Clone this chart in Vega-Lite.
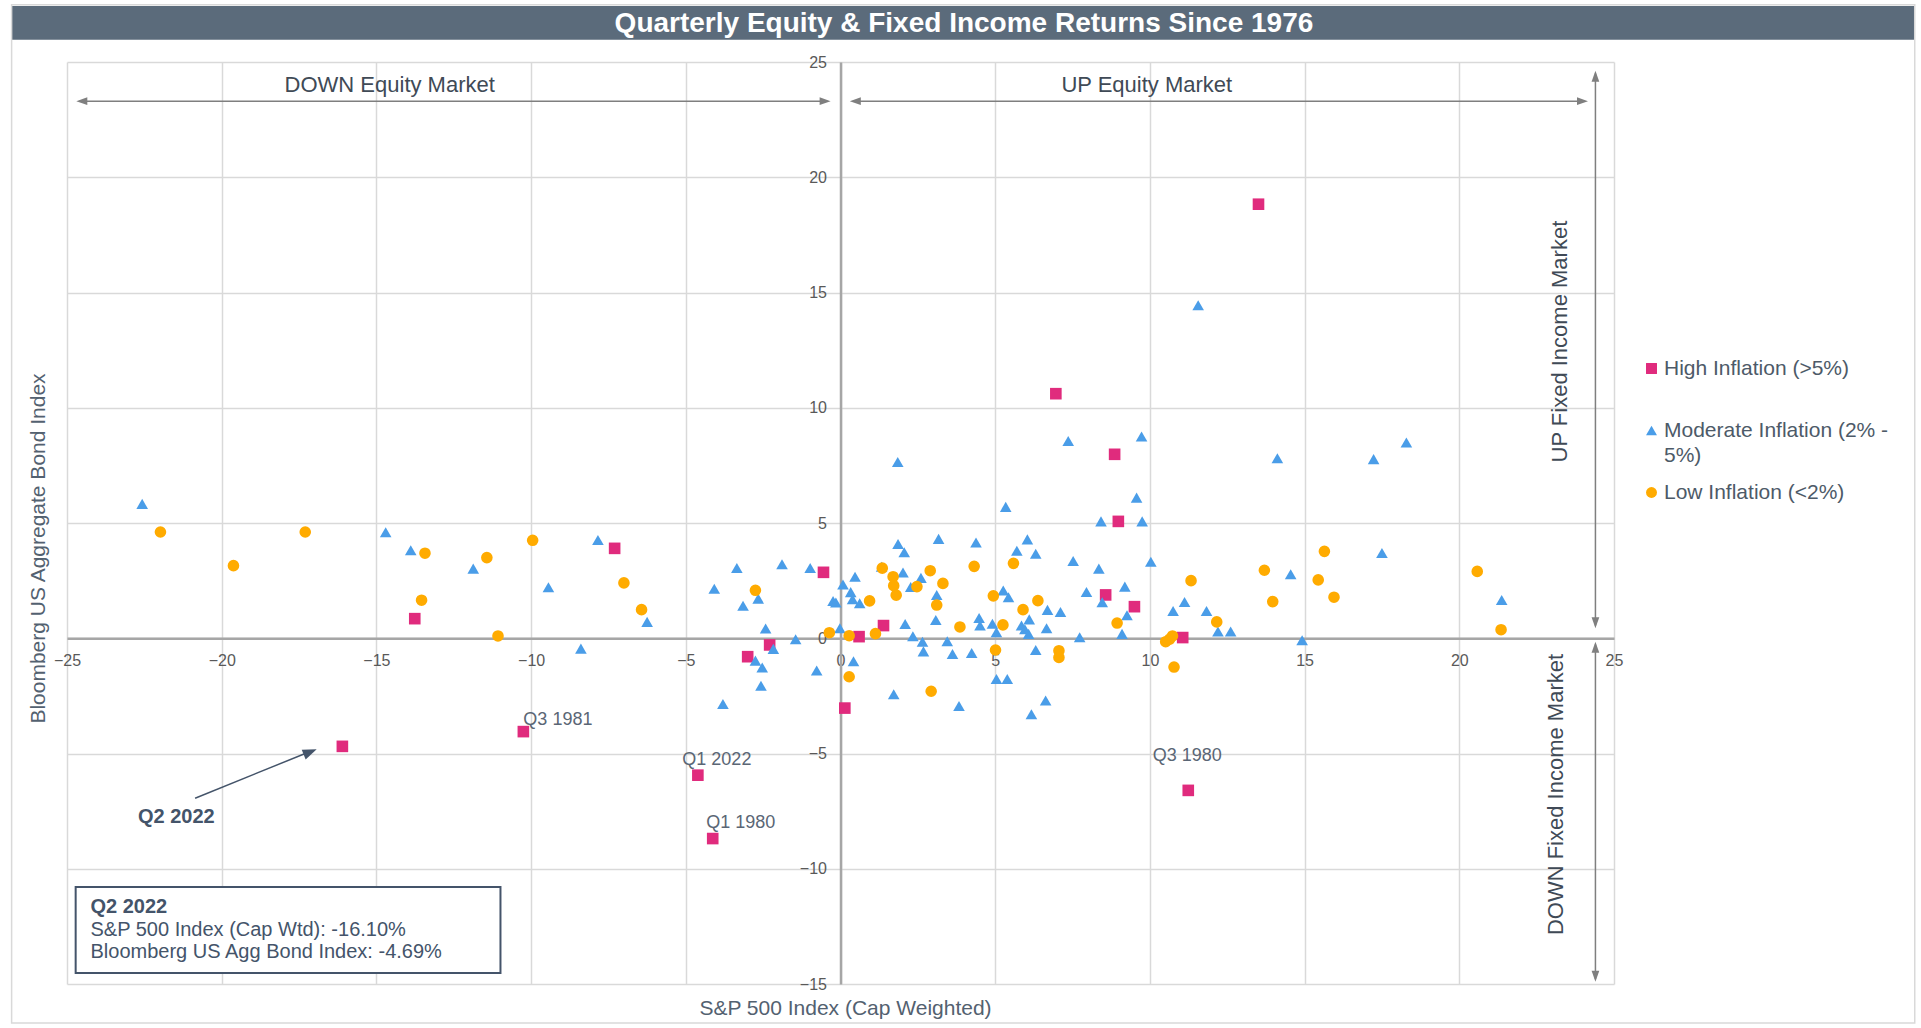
{
  "$schema": "https://vega.github.io/schema/vega-lite/v6.json",
  "autosize": "none",
  "width": 1547,
  "height": 922,
  "padding": {"left": 67, "top": 62, "right": 307, "bottom": 44},
  "background": "white",
  "config": {
    "view": {"stroke": null},
    "font": "Liberation Sans",
    "axis": {"grid": true, "gridColor": "#D9D9D9", "gridWidth": 1.5, "domainColor": "#A6A6A6", "domainWidth": 2.5, "ticks": false, "tickSize": 0, "labelFontSize": 16, "labelColor": "#595959", "labelFlush": false, "labelBound": false, "labelOverlap": false, "titleFontSize": 21, "titleFontWeight": "normal", "titleColor": "#536170"}
  },
  "data": {"values": [
    {"sp500": -16.10, "bond": -4.69, "inflation": "High Inflation (>5%)", "label": "Q2 2022"},
    {"sp500": -10.25, "bond": -4.05, "inflation": "High Inflation (>5%)", "label": "Q3 1981"},
    {"sp500": -4.61, "bond": -5.94, "inflation": "High Inflation (>5%)", "label": "Q1 2022"},
    {"sp500": -4.13, "bond": -8.69, "inflation": "High Inflation (>5%)", "label": "Q1 1980"},
    {"sp500": 11.24, "bond": -6.60, "inflation": "High Inflation (>5%)", "label": "Q3 1980"},
    {"sp500": -13.76, "bond": 0.85, "inflation": "High Inflation (>5%)"},
    {"sp500": -7.30, "bond": 3.90, "inflation": "High Inflation (>5%)"},
    {"sp500": -0.55, "bond": 2.86, "inflation": "High Inflation (>5%)"},
    {"sp500": -2.29, "bond": -0.29, "inflation": "High Inflation (>5%)"},
    {"sp500": -3.00, "bond": -0.80, "inflation": "High Inflation (>5%)"},
    {"sp500": 0.14, "bond": -3.03, "inflation": "High Inflation (>5%)"},
    {"sp500": 0.60, "bond": 0.07, "inflation": "High Inflation (>5%)"},
    {"sp500": 1.39, "bond": 0.55, "inflation": "High Inflation (>5%)"},
    {"sp500": 6.96, "bond": 10.61, "inflation": "High Inflation (>5%)"},
    {"sp500": 8.86, "bond": 7.98, "inflation": "High Inflation (>5%)"},
    {"sp500": 8.98, "bond": 5.07, "inflation": "High Inflation (>5%)"},
    {"sp500": 8.57, "bond": 1.88, "inflation": "High Inflation (>5%)"},
    {"sp500": 9.50, "bond": 1.37, "inflation": "High Inflation (>5%)"},
    {"sp500": 11.06, "bond": 0.03, "inflation": "High Inflation (>5%)"},
    {"sp500": 13.51, "bond": 18.83, "inflation": "High Inflation (>5%)"},
    {"sp500": -22.57, "bond": 5.83, "inflation": "Moderate Inflation (2% - 5%)"},
    {"sp500": -14.70, "bond": 4.60, "inflation": "Moderate Inflation (2% - 5%)"},
    {"sp500": -13.89, "bond": 3.82, "inflation": "Moderate Inflation (2% - 5%)"},
    {"sp500": -11.87, "bond": 3.02, "inflation": "Moderate Inflation (2% - 5%)"},
    {"sp500": -9.44, "bond": 2.21, "inflation": "Moderate Inflation (2% - 5%)"},
    {"sp500": -7.84, "bond": 4.26, "inflation": "Moderate Inflation (2% - 5%)"},
    {"sp500": -6.25, "bond": 0.71, "inflation": "Moderate Inflation (2% - 5%)"},
    {"sp500": -8.39, "bond": -0.45, "inflation": "Moderate Inflation (2% - 5%)"},
    {"sp500": -4.08, "bond": 2.15, "inflation": "Moderate Inflation (2% - 5%)"},
    {"sp500": -3.35, "bond": 3.05, "inflation": "Moderate Inflation (2% - 5%)"},
    {"sp500": -3.15, "bond": 1.41, "inflation": "Moderate Inflation (2% - 5%)"},
    {"sp500": -2.66, "bond": 1.72, "inflation": "Moderate Inflation (2% - 5%)"},
    {"sp500": -1.89, "bond": 3.21, "inflation": "Moderate Inflation (2% - 5%)"},
    {"sp500": -0.98, "bond": 3.05, "inflation": "Moderate Inflation (2% - 5%)"},
    {"sp500": -2.42, "bond": 0.42, "inflation": "Moderate Inflation (2% - 5%)"},
    {"sp500": -2.17, "bond": -0.46, "inflation": "Moderate Inflation (2% - 5%)"},
    {"sp500": -1.45, "bond": -0.04, "inflation": "Moderate Inflation (2% - 5%)"},
    {"sp500": -2.75, "bond": -0.97, "inflation": "Moderate Inflation (2% - 5%)"},
    {"sp500": -2.53, "bond": -1.27, "inflation": "Moderate Inflation (2% - 5%)"},
    {"sp500": -2.57, "bond": -2.06, "inflation": "Moderate Inflation (2% - 5%)"},
    {"sp500": -3.80, "bond": -2.85, "inflation": "Moderate Inflation (2% - 5%)"},
    {"sp500": -0.77, "bond": -1.40, "inflation": "Moderate Inflation (2% - 5%)"},
    {"sp500": -0.02, "bond": 0.43, "inflation": "Moderate Inflation (2% - 5%)"},
    {"sp500": 0.42, "bond": -1.00, "inflation": "Moderate Inflation (2% - 5%)"},
    {"sp500": 1.72, "bond": -2.43, "inflation": "Moderate Inflation (2% - 5%)"},
    {"sp500": 0.08, "bond": 2.33, "inflation": "Moderate Inflation (2% - 5%)"},
    {"sp500": 0.47, "bond": 2.67, "inflation": "Moderate Inflation (2% - 5%)"},
    {"sp500": 0.33, "bond": 2.00, "inflation": "Moderate Inflation (2% - 5%)"},
    {"sp500": 0.39, "bond": 1.69, "inflation": "Moderate Inflation (2% - 5%)"},
    {"sp500": -0.24, "bond": 1.62, "inflation": "Moderate Inflation (2% - 5%)"},
    {"sp500": -0.15, "bond": 1.55, "inflation": "Moderate Inflation (2% - 5%)"},
    {"sp500": 0.62, "bond": 1.52, "inflation": "Moderate Inflation (2% - 5%)"},
    {"sp500": 1.33, "bond": 3.10, "inflation": "Moderate Inflation (2% - 5%)"},
    {"sp500": 1.85, "bond": 7.65, "inflation": "Moderate Inflation (2% - 5%)"},
    {"sp500": 1.86, "bond": 4.09, "inflation": "Moderate Inflation (2% - 5%)"},
    {"sp500": 2.06, "bond": 3.73, "inflation": "Moderate Inflation (2% - 5%)"},
    {"sp500": 2.02, "bond": 2.85, "inflation": "Moderate Inflation (2% - 5%)"},
    {"sp500": 2.60, "bond": 2.62, "inflation": "Moderate Inflation (2% - 5%)"},
    {"sp500": 2.27, "bond": 2.22, "inflation": "Moderate Inflation (2% - 5%)"},
    {"sp500": 3.11, "bond": 1.88, "inflation": "Moderate Inflation (2% - 5%)"},
    {"sp500": 3.17, "bond": 4.31, "inflation": "Moderate Inflation (2% - 5%)"},
    {"sp500": 4.38, "bond": 4.15, "inflation": "Moderate Inflation (2% - 5%)"},
    {"sp500": 5.34, "bond": 5.70, "inflation": "Moderate Inflation (2% - 5%)"},
    {"sp500": 6.04, "bond": 4.29, "inflation": "Moderate Inflation (2% - 5%)"},
    {"sp500": 5.70, "bond": 3.80, "inflation": "Moderate Inflation (2% - 5%)"},
    {"sp500": 6.31, "bond": 3.67, "inflation": "Moderate Inflation (2% - 5%)"},
    {"sp500": 7.52, "bond": 3.35, "inflation": "Moderate Inflation (2% - 5%)"},
    {"sp500": 7.36, "bond": 8.56, "inflation": "Moderate Inflation (2% - 5%)"},
    {"sp500": 9.73, "bond": 8.75, "inflation": "Moderate Inflation (2% - 5%)"},
    {"sp500": 9.57, "bond": 6.10, "inflation": "Moderate Inflation (2% - 5%)"},
    {"sp500": 8.42, "bond": 5.07, "inflation": "Moderate Inflation (2% - 5%)"},
    {"sp500": 9.75, "bond": 5.07, "inflation": "Moderate Inflation (2% - 5%)"},
    {"sp500": 10.03, "bond": 3.32, "inflation": "Moderate Inflation (2% - 5%)"},
    {"sp500": 8.35, "bond": 3.02, "inflation": "Moderate Inflation (2% - 5%)"},
    {"sp500": 2.09, "bond": 0.62, "inflation": "Moderate Inflation (2% - 5%)"},
    {"sp500": 2.34, "bond": 0.09, "inflation": "Moderate Inflation (2% - 5%)"},
    {"sp500": 2.65, "bond": -0.15, "inflation": "Moderate Inflation (2% - 5%)"},
    {"sp500": 2.68, "bond": -0.57, "inflation": "Moderate Inflation (2% - 5%)"},
    {"sp500": 3.08, "bond": 0.79, "inflation": "Moderate Inflation (2% - 5%)"},
    {"sp500": 3.45, "bond": -0.13, "inflation": "Moderate Inflation (2% - 5%)"},
    {"sp500": 3.62, "bond": -0.68, "inflation": "Moderate Inflation (2% - 5%)"},
    {"sp500": 4.24, "bond": -0.64, "inflation": "Moderate Inflation (2% - 5%)"},
    {"sp500": 4.48, "bond": 0.88, "inflation": "Moderate Inflation (2% - 5%)"},
    {"sp500": 4.51, "bond": 0.55, "inflation": "Moderate Inflation (2% - 5%)"},
    {"sp500": 4.91, "bond": 0.63, "inflation": "Moderate Inflation (2% - 5%)"},
    {"sp500": 5.04, "bond": 0.26, "inflation": "Moderate Inflation (2% - 5%)"},
    {"sp500": 5.26, "bond": 2.07, "inflation": "Moderate Inflation (2% - 5%)"},
    {"sp500": 5.43, "bond": 1.78, "inflation": "Moderate Inflation (2% - 5%)"},
    {"sp500": 6.69, "bond": 1.23, "inflation": "Moderate Inflation (2% - 5%)"},
    {"sp500": 7.11, "bond": 1.14, "inflation": "Moderate Inflation (2% - 5%)"},
    {"sp500": 5.85, "bond": 0.55, "inflation": "Moderate Inflation (2% - 5%)"},
    {"sp500": 5.96, "bond": 0.39, "inflation": "Moderate Inflation (2% - 5%)"},
    {"sp500": 6.10, "bond": 0.82, "inflation": "Moderate Inflation (2% - 5%)"},
    {"sp500": 6.08, "bond": 0.19, "inflation": "Moderate Inflation (2% - 5%)"},
    {"sp500": 6.66, "bond": 0.43, "inflation": "Moderate Inflation (2% - 5%)"},
    {"sp500": 6.31, "bond": -0.51, "inflation": "Moderate Inflation (2% - 5%)"},
    {"sp500": 7.73, "bond": 0.04, "inflation": "Moderate Inflation (2% - 5%)"},
    {"sp500": 7.95, "bond": 2.01, "inflation": "Moderate Inflation (2% - 5%)"},
    {"sp500": 8.46, "bond": 1.56, "inflation": "Moderate Inflation (2% - 5%)"},
    {"sp500": 9.19, "bond": 2.24, "inflation": "Moderate Inflation (2% - 5%)"},
    {"sp500": 9.26, "bond": 1.00, "inflation": "Moderate Inflation (2% - 5%)"},
    {"sp500": 9.10, "bond": 0.19, "inflation": "Moderate Inflation (2% - 5%)"},
    {"sp500": 10.75, "bond": 1.18, "inflation": "Moderate Inflation (2% - 5%)"},
    {"sp500": 11.12, "bond": 1.57, "inflation": "Moderate Inflation (2% - 5%)"},
    {"sp500": 11.83, "bond": 1.18, "inflation": "Moderate Inflation (2% - 5%)"},
    {"sp500": 12.20, "bond": 0.29, "inflation": "Moderate Inflation (2% - 5%)"},
    {"sp500": 12.61, "bond": 0.29, "inflation": "Moderate Inflation (2% - 5%)"},
    {"sp500": 3.83, "bond": -2.94, "inflation": "Moderate Inflation (2% - 5%)"},
    {"sp500": 5.04, "bond": -1.77, "inflation": "Moderate Inflation (2% - 5%)"},
    {"sp500": 5.39, "bond": -1.77, "inflation": "Moderate Inflation (2% - 5%)"},
    {"sp500": 6.63, "bond": -2.70, "inflation": "Moderate Inflation (2% - 5%)"},
    {"sp500": 6.17, "bond": -3.30, "inflation": "Moderate Inflation (2% - 5%)"},
    {"sp500": 14.12, "bond": 7.81, "inflation": "Moderate Inflation (2% - 5%)"},
    {"sp500": 17.23, "bond": 7.77, "inflation": "Moderate Inflation (2% - 5%)"},
    {"sp500": 18.29, "bond": 8.49, "inflation": "Moderate Inflation (2% - 5%)"},
    {"sp500": 17.50, "bond": 3.70, "inflation": "Moderate Inflation (2% - 5%)"},
    {"sp500": 14.55, "bond": 2.78, "inflation": "Moderate Inflation (2% - 5%)"},
    {"sp500": 21.37, "bond": 1.66, "inflation": "Moderate Inflation (2% - 5%)"},
    {"sp500": 14.92, "bond": -0.09, "inflation": "Moderate Inflation (2% - 5%)"},
    {"sp500": 11.56, "bond": 14.45, "inflation": "Moderate Inflation (2% - 5%)"},
    {"sp500": -21.98, "bond": 4.61, "inflation": "Low Inflation (<2%)"},
    {"sp500": -19.62, "bond": 3.15, "inflation": "Low Inflation (<2%)"},
    {"sp500": -17.30, "bond": 4.61, "inflation": "Low Inflation (<2%)"},
    {"sp500": -13.43, "bond": 3.69, "inflation": "Low Inflation (<2%)"},
    {"sp500": -11.43, "bond": 3.50, "inflation": "Low Inflation (<2%)"},
    {"sp500": -13.54, "bond": 1.65, "inflation": "Low Inflation (<2%)"},
    {"sp500": -11.07, "bond": 0.10, "inflation": "Low Inflation (<2%)"},
    {"sp500": -9.95, "bond": 4.25, "inflation": "Low Inflation (<2%)"},
    {"sp500": -7.00, "bond": 2.40, "inflation": "Low Inflation (<2%)"},
    {"sp500": -6.43, "bond": 1.24, "inflation": "Low Inflation (<2%)"},
    {"sp500": -2.75, "bond": 2.08, "inflation": "Low Inflation (<2%)"},
    {"sp500": -0.36, "bond": 0.24, "inflation": "Low Inflation (<2%)"},
    {"sp500": 0.28, "bond": 0.11, "inflation": "Low Inflation (<2%)"},
    {"sp500": 1.13, "bond": 0.20, "inflation": "Low Inflation (<2%)"},
    {"sp500": 0.28, "bond": -1.67, "inflation": "Low Inflation (<2%)"},
    {"sp500": 0.94, "bond": 1.62, "inflation": "Low Inflation (<2%)"},
    {"sp500": 1.35, "bond": 3.04, "inflation": "Low Inflation (<2%)"},
    {"sp500": 1.70, "bond": 2.67, "inflation": "Low Inflation (<2%)"},
    {"sp500": 1.72, "bond": 2.28, "inflation": "Low Inflation (<2%)"},
    {"sp500": 1.80, "bond": 1.87, "inflation": "Low Inflation (<2%)"},
    {"sp500": 2.90, "bond": 2.93, "inflation": "Low Inflation (<2%)"},
    {"sp500": 2.47, "bond": 2.24, "inflation": "Low Inflation (<2%)"},
    {"sp500": 3.31, "bond": 2.38, "inflation": "Low Inflation (<2%)"},
    {"sp500": 3.11, "bond": 1.44, "inflation": "Low Inflation (<2%)"},
    {"sp500": 4.32, "bond": 3.12, "inflation": "Low Inflation (<2%)"},
    {"sp500": 5.59, "bond": 3.25, "inflation": "Low Inflation (<2%)"},
    {"sp500": 3.86, "bond": 0.49, "inflation": "Low Inflation (<2%)"},
    {"sp500": 5.25, "bond": 0.58, "inflation": "Low Inflation (<2%)"},
    {"sp500": 4.94, "bond": 1.84, "inflation": "Low Inflation (<2%)"},
    {"sp500": 5.90, "bond": 1.24, "inflation": "Low Inflation (<2%)"},
    {"sp500": 6.38, "bond": 1.63, "inflation": "Low Inflation (<2%)"},
    {"sp500": 5.01, "bond": -0.51, "inflation": "Low Inflation (<2%)"},
    {"sp500": 7.06, "bond": -0.54, "inflation": "Low Inflation (<2%)"},
    {"sp500": 7.06, "bond": -0.83, "inflation": "Low Inflation (<2%)"},
    {"sp500": 8.94, "bond": 0.66, "inflation": "Low Inflation (<2%)"},
    {"sp500": 11.33, "bond": 2.50, "inflation": "Low Inflation (<2%)"},
    {"sp500": 12.16, "bond": 0.71, "inflation": "Low Inflation (<2%)"},
    {"sp500": 10.51, "bond": -0.15, "inflation": "Low Inflation (<2%)"},
    {"sp500": 10.64, "bond": -0.04, "inflation": "Low Inflation (<2%)"},
    {"sp500": 10.73, "bond": 0.10, "inflation": "Low Inflation (<2%)"},
    {"sp500": 10.78, "bond": -1.25, "inflation": "Low Inflation (<2%)"},
    {"sp500": 2.93, "bond": -2.30, "inflation": "Low Inflation (<2%)"},
    {"sp500": 15.64, "bond": 3.77, "inflation": "Low Inflation (<2%)"},
    {"sp500": 13.70, "bond": 2.95, "inflation": "Low Inflation (<2%)"},
    {"sp500": 15.44, "bond": 2.53, "inflation": "Low Inflation (<2%)"},
    {"sp500": 15.95, "bond": 1.78, "inflation": "Low Inflation (<2%)"},
    {"sp500": 13.97, "bond": 1.59, "inflation": "Low Inflation (<2%)"},
    {"sp500": 20.58, "bond": 2.90, "inflation": "Low Inflation (<2%)"},
    {"sp500": 21.35, "bond": 0.37, "inflation": "Low Inflation (<2%)"}
  ]},
  "layer": [
    {
      "data": {"values": [{}]},
      "mark": {"type": "rect", "color": "#5B6B7B"},
      "encoding": {"x": {"datum": -26.79}, "x2": {"datum": 34.72}, "y": {"datum": 27.43}, "y2": {"datum": 25.96}}
    },
    {
      "data": {"values": [{}]},
      "mark": {"type": "rect", "filled": false, "stroke": "#D9D9D9", "strokeWidth": 1.5},
      "encoding": {"x": {"datum": -26.79}, "x2": {"datum": 34.72}, "y": {"datum": 27.48}, "y2": {"datum": -16.69}}
    },
    {
      "data": {"values": [{}]},
      "mark": {"type": "text", "text": "Quarterly Equity & Fixed Income Returns Since 1976", "fontSize": 28, "fontWeight": "bold", "color": "white", "align": "center", "baseline": "middle"},
      "encoding": {"x": {"datum": 3.99}, "y": {"datum": 26.65}}
    },
    {
      "mark": {"type": "point", "filled": true, "opacity": 1, "size": 135, "strokeWidth": 0},
      "encoding": {
        "x": {"field": "sp500", "type": "quantitative", "scale": {"domain": [-25, 25], "nice": false, "zero": false},
          "axis": {"values": [-25, -20, -15, -10, -5, 0, 5, 10, 15, 20, 25], "offset": -345.75, "labelPadding": 14, "title": "S&P 500 Index (Cap Weighted)", "titleX": 778, "titleY": 369.75, "titleBaseline": "middle", "titleAlign": "center"}},
        "y": {"field": "bond", "type": "quantitative", "scale": {"domain": [-15, 25], "nice": false, "zero": false},
          "axis": {"values": [-15, -10, -5, 0, 5, 10, 15, 20, 25], "offset": -773.5, "labelPadding": 14, "title": "Bloomberg US Aggregate Bond Index", "titleX": -802.5, "titleY": 486, "titleAngle": 270, "titleBaseline": "middle", "titleAlign": "center"}},
        "color": {"field": "inflation", "type": "nominal",
          "scale": {"domain": ["High Inflation (>5%)", "Moderate Inflation (2% - 5%)", "Low Inflation (<2%)"], "range": ["#E02B7D", "#4A9DE8", "#FFAB00"]},
          "legend": {"title": null, "orient": "none", "legendX": 1574, "legendY": 296, "padding": 0, "labelFontSize": 21, "labelColor": "#4D5A68", "symbolSize": 120, "symbolOpacity": 1, "symbolStrokeWidth": 0, "labelOffset": 2, "rowPadding": 15, "labelLimit": 400,
            "labelExpr": "datum.label == 'Moderate Inflation (2% - 5%)' ? ['Moderate Inflation (2% -', '5%)'] : datum.label == 'High Inflation (>5%)' ? ['High Inflation (>5%)', ' '] : datum.label",
            "encode": {"labels": {"update": {"lineHeight": {"value": 25}}}}}},
        "shape": {"field": "inflation", "type": "nominal",
          "scale": {"domain": ["High Inflation (>5%)", "Moderate Inflation (2% - 5%)", "Low Inflation (<2%)"], "range": ["square", "triangle-up", "circle"]},
          "legend": {"title": null, "orient": "none", "legendX": 1574, "legendY": 296, "padding": 0, "labelFontSize": 21, "labelColor": "#4D5A68", "symbolSize": 120, "symbolOpacity": 1, "symbolStrokeWidth": 0, "labelOffset": 2, "rowPadding": 15, "labelLimit": 400,
            "labelExpr": "datum.label == 'Moderate Inflation (2% - 5%)' ? ['Moderate Inflation (2% -', '5%)'] : datum.label == 'High Inflation (>5%)' ? ['High Inflation (>5%)', ' '] : datum.label",
            "encode": {"labels": {"update": {"lineHeight": {"value": 25}}}}}}
      }
    },
    {
      "data": {"values": [{}]},
      "mark": {"type": "rect", "fill": "white", "stroke": "#44546A", "strokeWidth": 2},
      "encoding": {"x": {"datum": -24.72}, "x2": {"datum": -10.99}, "y": {"datum": -10.79}, "y2": {"datum": -14.52}}
    },
    {
      "data": {"values": [{}]},
      "mark": {"type": "text", "text": "Q2 2022", "fontSize": 20, "fontWeight": "bold", "color": "#44546A", "align": "left", "baseline": "middle"},
      "encoding": {"x": {"datum": -24.24}, "y": {"datum": -11.64}}
    },
    {
      "data": {"values": [{}]},
      "mark": {"type": "text", "text": ["S&P 500 Index (Cap Wtd): -16.10%", "Bloomberg US Agg Bond Index: -4.69%"], "fontSize": 20, "lineHeight": 22.5, "color": "#44546A", "align": "left", "baseline": "top"},
      "encoding": {"x": {"datum": -24.24}, "y": {"datum": -12.22}}
    },
    {
      "transform": [{"filter": "datum.label == 'Q3 1981'"}],
      "mark": {"type": "text", "fontSize": 18, "color": "#5A6675", "align": "left", "baseline": "middle", "dx": 0, "dy": -12},
      "encoding": {"x": {"field": "sp500", "type": "quantitative"}, "y": {"field": "bond", "type": "quantitative"}, "text": {"field": "label"}}
    },
    {
      "transform": [{"filter": "datum.label == 'Q1 2022'"}],
      "mark": {"type": "text", "fontSize": 18, "color": "#5A6675", "align": "center", "baseline": "middle", "dx": 19, "dy": -15},
      "encoding": {"x": {"field": "sp500", "type": "quantitative"}, "y": {"field": "bond", "type": "quantitative"}, "text": {"field": "label"}}
    },
    {
      "transform": [{"filter": "datum.label == 'Q1 1980'"}],
      "mark": {"type": "text", "fontSize": 18, "color": "#5A6675", "align": "center", "baseline": "middle", "dx": 28, "dy": -16},
      "encoding": {"x": {"field": "sp500", "type": "quantitative"}, "y": {"field": "bond", "type": "quantitative"}, "text": {"field": "label"}}
    },
    {
      "transform": [{"filter": "datum.label == 'Q3 1980'"}],
      "mark": {"type": "text", "fontSize": 18, "color": "#5A6675", "align": "center", "baseline": "middle", "dx": -1, "dy": -34},
      "encoding": {"x": {"field": "sp500", "type": "quantitative"}, "y": {"field": "bond", "type": "quantitative"}, "text": {"field": "label"}}
    },
    {
      "transform": [{"filter": "datum.label == 'Q2 2022'"}],
      "mark": {"type": "text", "fontSize": 20, "fontWeight": "bold", "color": "#44546A", "align": "center", "baseline": "middle", "dx": -166, "dy": 71},
      "encoding": {"x": {"field": "sp500", "type": "quantitative"}, "y": {"field": "bond", "type": "quantitative"}, "text": {"field": "label"}}
    },
    {
      "data": {"values": [{}]},
      "mark": {"type": "rule", "color": "#44546A", "strokeWidth": 1.5},
      "encoding": {"x": {"datum": -20.86}, "y": {"datum": -6.94}, "x2": {"datum": -17.3}, "y2": {"datum": -5.0}}
    },
    {
      "data": {"values": [{}]},
      "mark": {"type": "point", "shape": "M0,0L-2,-0.75L-2,0.75Z", "filled": true, "opacity": 1, "color": "#44546A", "size": 196, "angle": 338.1, "strokeWidth": 0},
      "encoding": {"x": {"datum": -16.93}, "y": {"datum": -4.82}}
    },
    {
      "data": {"values": [{}]},
      "mark": {"type": "rule", "color": "#7F7F7F", "strokeWidth": 1.5},
      "encoding": {"x": {"datum": -24.6}, "x2": {"datum": -0.42}, "y": {"datum": 23.3}}
    },
    {
      "data": {"values": [{}]},
      "mark": {"type": "rule", "color": "#7F7F7F", "strokeWidth": 1.5},
      "encoding": {"x": {"datum": 0.4}, "x2": {"datum": 24.06}, "y": {"datum": 23.3}}
    },
    {
      "data": {"values": [{}]},
      "mark": {"type": "rule", "color": "#7F7F7F", "strokeWidth": 1.5},
      "encoding": {"x": {"datum": 24.4}, "y": {"datum": 24.5}, "y2": {"datum": 0.55}}
    },
    {
      "data": {"values": [{}]},
      "mark": {"type": "rule", "color": "#7F7F7F", "strokeWidth": 1.5},
      "encoding": {"x": {"datum": 24.4}, "y": {"datum": -0.27}, "y2": {"datum": -14.78}}
    },
    {
      "data": {"values": [{}]},
      "mark": {"type": "point", "shape": "M0,0L-2,-0.7L-2,0.7Z", "filled": true, "opacity": 1, "color": "#7F7F7F", "size": 121, "angle": 180, "strokeWidth": 0},
      "encoding": {"x": {"datum": -24.7}, "y": {"datum": 23.3}}
    },
    {
      "data": {"values": [{}]},
      "mark": {"type": "point", "shape": "M0,0L-2,-0.7L-2,0.7Z", "filled": true, "opacity": 1, "color": "#7F7F7F", "size": 121, "angle": 0, "strokeWidth": 0},
      "encoding": {"x": {"datum": -0.32}, "y": {"datum": 23.3}}
    },
    {
      "data": {"values": [{}]},
      "mark": {"type": "point", "shape": "M0,0L-2,-0.7L-2,0.7Z", "filled": true, "opacity": 1, "color": "#7F7F7F", "size": 121, "angle": 180, "strokeWidth": 0},
      "encoding": {"x": {"datum": 0.3}, "y": {"datum": 23.3}}
    },
    {
      "data": {"values": [{}]},
      "mark": {"type": "point", "shape": "M0,0L-2,-0.7L-2,0.7Z", "filled": true, "opacity": 1, "color": "#7F7F7F", "size": 121, "angle": 0, "strokeWidth": 0},
      "encoding": {"x": {"datum": 24.16}, "y": {"datum": 23.3}}
    },
    {
      "data": {"values": [{}]},
      "mark": {"type": "point", "shape": "M0,0L-2,-0.7L-2,0.7Z", "filled": true, "opacity": 1, "color": "#7F7F7F", "size": 121, "angle": 270, "strokeWidth": 0},
      "encoding": {"x": {"datum": 24.4}, "y": {"datum": 24.62}}
    },
    {
      "data": {"values": [{}]},
      "mark": {"type": "point", "shape": "M0,0L-2,-0.7L-2,0.7Z", "filled": true, "opacity": 1, "color": "#7F7F7F", "size": 121, "angle": 90, "strokeWidth": 0},
      "encoding": {"x": {"datum": 24.4}, "y": {"datum": 0.43}}
    },
    {
      "data": {"values": [{}]},
      "mark": {"type": "point", "shape": "M0,0L-2,-0.7L-2,0.7Z", "filled": true, "opacity": 1, "color": "#7F7F7F", "size": 121, "angle": 270, "strokeWidth": 0},
      "encoding": {"x": {"datum": 24.4}, "y": {"datum": -0.15}}
    },
    {
      "data": {"values": [{}]},
      "mark": {"type": "point", "shape": "M0,0L-2,-0.7L-2,0.7Z", "filled": true, "opacity": 1, "color": "#7F7F7F", "size": 121, "angle": 90, "strokeWidth": 0},
      "encoding": {"x": {"datum": 24.4}, "y": {"datum": -14.9}}
    },
    {
      "data": {"values": [{}]},
      "mark": {"type": "text", "text": "DOWN Equity Market", "fontSize": 22, "color": "#404A56", "align": "center", "baseline": "middle"},
      "encoding": {"x": {"datum": -14.57}, "y": {"datum": 24.0}}
    },
    {
      "data": {"values": [{}]},
      "mark": {"type": "text", "text": "UP Equity Market", "fontSize": 22, "color": "#404A56", "align": "center", "baseline": "middle"},
      "encoding": {"x": {"datum": 9.9}, "y": {"datum": 24.0}}
    },
    {
      "data": {"values": [{}]},
      "mark": {"type": "text", "text": "UP Fixed Income Market", "fontSize": 22, "color": "#404A56", "align": "center", "baseline": "middle", "angle": 270},
      "encoding": {"x": {"datum": 23.25}, "y": {"datum": 12.87}}
    },
    {
      "data": {"values": [{}]},
      "mark": {"type": "text", "text": "DOWN Fixed Income Market", "fontSize": 22, "color": "#404A56", "align": "center", "baseline": "middle", "angle": 270},
      "encoding": {"x": {"datum": 23.14}, "y": {"datum": -6.78}}
    }
  ]
}
